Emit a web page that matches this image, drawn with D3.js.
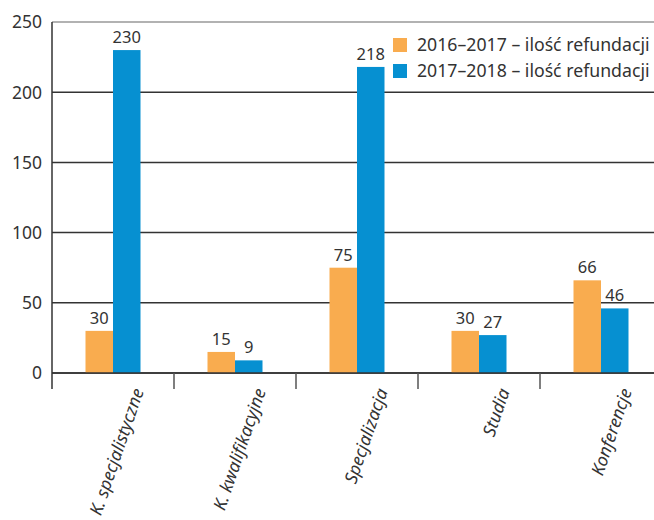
<!DOCTYPE html>
<html><head><meta charset="utf-8">
<script src="https://cdn.jsdelivr.net/npm/d3@7"></script>
<style>body{margin:0;background:#fff}svg{display:block}</style>
</head><body><svg id="c" width="654" height="520"></svg>
<script>
const categories = ["K. specjalistyczne","K. kwalifikacyjne","Specjalizacja","Studia","Konferencje"];
const series = ["2016–2017 – ilość refundacji","2017–2018 – ilość refundacji"];
const values2016 = [30,15,75,30,66];
const values2017 = [230,9,218,27,46];
const yTicks = [0,50,100,150,200,250];
const colors = ["#F9AC4F","#0690D1"];

(function(){
const svg = d3.select("#c");
const font = "'Noto Sans', sans-serif";
const mLeft = 52, mRight = 662, mTop = 22, mBottom = 373;
const x = d3.scaleBand().domain(categories).range([mLeft,mRight]);
const y = d3.scaleLinear().domain([0,250]).range([mBottom,mTop]);
const xi = d3.scaleBand().domain([0,1]).range([0,55]);
const data = [values2016, values2017];

svg.append("g").selectAll("line").data(yTicks).join("line")
  .attr("x1",mLeft).attr("x2",654).attr("y1",d=>y(d)).attr("y2",d=>y(d))
  .attr("stroke",d=>d===250?"#999":"#333").attr("stroke-width",1.5);
svg.append("g").selectAll("text").data(yTicks).join("text")
  .attr("x",42).attr("y",d=>y(d)).attr("dy","0.36em").attr("text-anchor","end")
  .attr("font-family",font).attr("font-size",17.5).attr("fill","#333").text(d=>d);

categories.forEach((c,i)=>{
  const g = svg.append("g").attr("transform",`translate(${x(c)+x.bandwidth()/2-27.5},0)`);
  [0,1].forEach(s=>{
    const v = data[s][i];
    g.append("rect").attr("x",xi(s)).attr("width",xi.bandwidth())
      .attr("y",y(v)).attr("height",y(0)-y(v)).attr("fill",colors[s]);
    g.append("text").attr("x",xi(s)+xi.bandwidth()/2).attr("y",y(v)-7)
      .attr("text-anchor","middle").attr("font-family",font).attr("font-size",16.5)
      .attr("fill","#333").text(v);
  });
});

svg.append("line").attr("x1",mLeft).attr("x2",654).attr("y1",y(0)).attr("y2",y(0)).attr("stroke","#333").attr("stroke-width",1.5);
svg.append("line").attr("x1",mLeft).attr("x2",mLeft).attr("y1",mTop).attr("y2",389).attr("stroke","#333").attr("stroke-width",1.5);
const tickXs = categories.map(c=>x(c)+x.bandwidth()).slice(0,4);
svg.append("g").selectAll("line").data(tickXs).join("line")
  .attr("x1",d=>d).attr("x2",d=>d).attr("y1",y(0)).attr("y2",389).attr("stroke","#555").attr("stroke-width",1.5);
svg.append("g").selectAll("text").data(categories).join("text")
  .attr("transform",c=>`translate(${x(c)+x.bandwidth()/2+31},${391}) rotate(-71)`)
  .attr("text-anchor","end").attr("font-family",font).attr("font-size",17.5)
  .attr("font-style","italic").attr("fill","#333").text(c=>c);

const lg = svg.append("g");
series.forEach((s,i)=>{
  lg.append("rect").attr("x",393).attr("y",38+i*26).attr("width",14).attr("height",14).attr("fill",colors[i]);
  lg.append("text").attr("x",417).attr("y",45+i*26).attr("dy","0.36em")
    .attr("font-family",font).attr("font-size",17.7).attr("fill","#333").text(s);
});
})();
</script></body></html>
